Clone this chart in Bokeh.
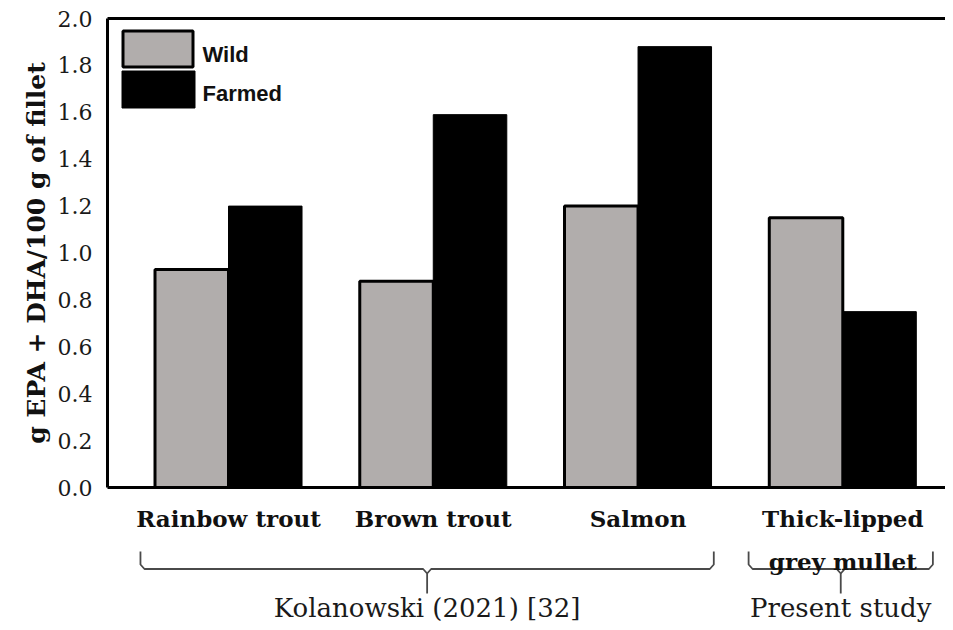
from bokeh.plotting import figure
from bokeh.models import (Range1d, FixedTicker, LinearAxis, PrintfTickFormatter,
                          ColumnDataSource)
from bokeh.layouts import column
from bokeh.embed import file_html
from bokeh.resources import INLINE
from bokeh.core.properties import value

# ---------------- data ----------------
categories = ["Rainbow trout", "Brown trout", "Salmon", "Thick-lipped\ngrey mullet"]
series_names = ["Wild", "Farmed"]
wild = [0.93, 0.88, 1.20, 1.15]
farmed = [1.20, 1.59, 1.88, 0.75]
y_ticks = [0.0, 0.2, 0.4, 0.6, 0.8, 1.0, 1.2, 1.4, 1.6, 1.8, 2.0]
y_title = "g EPA + DHA/100 g of fillet"
source_labels = ["Kolanowski (2021) [32]", "Present study"]
source_groups = [[0, 1, 2], [3]]

# ---------------- style / layout ----------------
W = 945
TOP_H = 505
BOT_H = 117
FRAME_L = 107
FRAME_T = 18
FRAME_H = 469
BW = 0.359
GRAY = "#B1ADAC"
SERIF = "DejaVu Serif"

X0, X1 = -0.591, 3.5016
Y0, Y1 = 0.0, 2.0
XPX = (W - FRAME_L) / (X1 - X0)      # px per x unit
YPX = FRAME_H / (Y1 - Y0)            # px per y unit


def sx(px):  # screen x -> data x (for legend placement)
    return X0 + (px - FRAME_L) / XPX


def sy(py):  # screen y -> data y (for legend placement)
    return Y0 + (FRAME_T + FRAME_H - py) / YPX


x_range = Range1d(X0, X1)
idx = list(range(len(categories)))

p = figure(width=W, height=TOP_H, x_range=x_range, y_range=Range1d(Y0, Y1),
           output_backend="svg", toolbar_location=None,
           min_border_left=FRAME_L, min_border_right=0, min_border_top=FRAME_T,
           min_border_bottom=TOP_H - FRAME_T - FRAME_H,
           x_axis_location=None)
p.grid.grid_line_color = None
p.outline_line_color = None

src = ColumnDataSource(dict(
    xw=[i - BW / 2 for i in idx],
    xf=[i + BW / 2 for i in idx],
    wild=wild, farmed=farmed))

p.vbar(x="xw", top="wild", bottom=0, width=BW, source=src,
       fill_color=GRAY, line_color="black", line_width=3)
p.vbar(x="xf", top="farmed", bottom=0, width=BW, source=src,
       fill_color="black", line_color="black", line_width=1)

# legend (drawn manually so the swatches touch like in the original)
p.quad(left=[sx(122.5)], right=[sx(192.5)], top=[sy(30.5)], bottom=[sy(66.5)],
       fill_color=GRAY, line_color="black", line_width=3)
p.quad(left=[sx(121.5)], right=[sx(194.5)], top=[sy(70.5)], bottom=[sy(107.5)],
       fill_color="black", line_color="black", line_width=1)
p.text(x=[sx(202), sx(202)], y=[sy(54), sy(93)], text=series_names,
       text_font=value("Liberation Sans"), text_font_style="bold",
       text_font_size="22px", text_align="left", text_baseline="middle",
       text_color="#111111")

ya = p.yaxis[0]
ya.ticker = FixedTicker(ticks=y_ticks)
ya.formatter = PrintfTickFormatter(format="%.1f")
ya.axis_line_width = 3
ya.axis_line_color = "black"
ya.major_tick_line_color = None
ya.minor_tick_line_color = None
ya.major_tick_out = 0
ya.major_tick_in = 0
ya.major_label_standoff = 15
ya.major_label_text_font = SERIF
ya.major_label_text_font_size = "22px"
ya.major_label_text_color = "#1a1a1a"
ya.axis_label = y_title
ya.axis_label_text_font = SERIF
ya.axis_label_text_font_style = "bold"
ya.axis_label_text_font_size = "25px"
ya.axis_label_text_color = "#111111"
ya.axis_label_standoff = 4

for loc in ("above", "below"):
    ax = LinearAxis(ticker=FixedTicker(ticks=[]), axis_line_width=3, axis_line_color="black",
                    major_tick_line_color=None, minor_tick_line_color=None,
                    major_tick_out=0, major_tick_in=0, major_label_standoff=0,
                    major_label_text_font_size="0px")
    p.add_layout(ax, loc)

# ---------------- lower annotation panel (y in screen pixels, downward) ----------------
q = figure(width=W, height=BOT_H, x_range=x_range, y_range=Range1d(TOP_H + BOT_H, TOP_H),
           output_backend="svg", toolbar_location=None,
           min_border_left=FRAME_L, min_border_right=0, min_border_top=0, min_border_bottom=0,
           x_axis_location=None, y_axis_location=None)
q.grid.grid_line_color = None
q.outline_line_color = None

line1_x, line1_t, line2_x, line2_t = [], [], [], []
for i, c in zip(idx, categories):
    parts = c.split("\n")
    line1_x.append(i); line1_t.append(parts[0])
    if len(parts) > 1:
        line2_x.append(i); line2_t.append(parts[1])

q.text(x=line1_x, y=[518] * len(line1_x), text=line1_t, text_font=value(SERIF),
       text_font_style="bold", text_font_size="23px", text_align="center",
       text_baseline="middle", text_color="#111111")

# braces under the groups
brace_left = [-0.43, 2.54]
brace_right = [2.37, 3.44]
dx = 4 / XPX
xs, ys, mids = [], [], []
for L, R in zip(brace_left, brace_right):
    C = (L + R) / 2
    mids.append(C)
    xs.append([L, L, L + dx, C - dx, C, C])
    ys.append([551, 564, 568.5, 568.5, 573, 593])
    xs.append([C, C + dx, R - dx, R, R])
    ys.append([573, 568.5, 568.5, 564, 551])
q.multi_line(xs=xs, ys=ys, line_color="#4a4a4a", line_width=1.8)

q.text(x=line2_x, y=[561] * len(line2_x), text=line2_t, text_font=value(SERIF),
       text_font_style="bold", text_font_size="23px", text_align="center",
       text_baseline="middle", text_color="#111111")

q.text(x=mids, y=[607] * len(mids), text=source_labels, text_font=value(SERIF),
       text_font_size="26px", text_align="center", text_baseline="middle",
       text_color="#1a1a1a")

layout = column(p, q, spacing=0)
open("out.html", "w").write(file_html(layout, INLINE))
